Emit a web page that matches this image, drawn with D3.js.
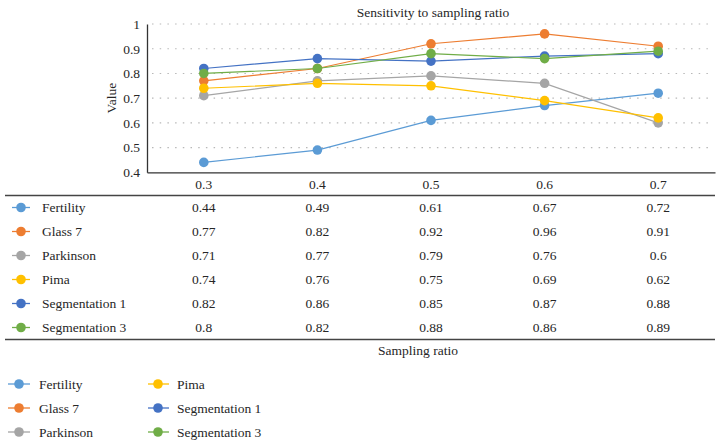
<!DOCTYPE html>
<html>
<head>
<meta charset="utf-8">
<script src="https://cdn.jsdelivr.net/npm/d3@7"></script>
<style>
  html, body { margin: 0; padding: 0; background: #fff; }
  svg { display: block; }
  text { font-family: "Liberation Serif", "DejaVu Serif", serif; fill: #262626; }
</style>
</head>
<body>
<svg id="chart" width="724" height="448"></svg>
<script>
const categories = ["0.3", "0.4", "0.5", "0.6", "0.7"];
const seriesNames = ["Fertility", "Glass 7", "Parkinson", "Pima", "Segmentation 1", "Segmentation 3"];
const seriesColors = ["#5B9BD5", "#ED7D31", "#A5A5A5", "#FFC000", "#4472C4", "#70AD47"];
const fertility = [0.44, 0.49, 0.61, 0.67, 0.72];
const glass7 = [0.77, 0.82, 0.92, 0.96, 0.91];
const parkinson = [0.71, 0.77, 0.79, 0.76, 0.6];
const pima = [0.74, 0.76, 0.75, 0.69, 0.62];
const segmentation1 = [0.82, 0.86, 0.85, 0.87, 0.88];
const segmentation3 = [0.8, 0.82, 0.88, 0.86, 0.89];
const yTicks = [0.4, 0.5, 0.6, 0.7, 0.8, 0.9, 1];
const title = "Sensitivity to sampling ratio";
const yTitle = "Value";
const xTitle = "Sampling ratio";

const seriesValues = [fertility, glass7, parkinson, pima, segmentation1, segmentation3];
const series = seriesNames.map((n, i) => ({ name: n, color: seriesColors[i], values: seriesValues[i] }));

const svg = d3.select("#chart");
const plotLeft = 147, plotRight = 715, plotTop = 24, plotBottom = 172.3;

const x = d3.scaleBand().domain(categories).range([plotLeft, plotRight]);
const xc = c => x(c) + x.bandwidth() / 2;
const y = d3.scaleLinear().domain([0.4, 1]).range([plotBottom, plotTop]);

// gridlines
svg.append("g").selectAll("line").data(yTicks.filter(t => t > 0.4)).join("line")
  .attr("x1", plotLeft + 5).attr("x2", plotRight - 3)
  .attr("y1", d => y(d)).attr("y2", d => y(d))
  .attr("stroke", "#b8b8b8").attr("stroke-width", 1.1)
  .attr("stroke-dasharray", "1.5,6.2");

// y axis
const yAxis = d3.axisLeft(y).tickValues(yTicks).tickSize(0).tickPadding(7)
  .tickFormat(d => String(+d.toFixed(1)));
const gy = svg.append("g").attr("transform", `translate(${plotLeft},0)`).call(yAxis);
gy.select(".domain").attr("stroke", "#333").attr("stroke-width", 1.3);
gy.selectAll("text").style("font-family", '"Liberation Serif", serif').style("font-size", "13.5px").attr("fill", "#262626");

// x axis
const xAxis = d3.axisBottom(x).tickSize(0).tickPadding(7);
const gx = svg.append("g").attr("transform", `translate(0,${plotBottom})`).call(xAxis);
gx.select(".domain").attr("stroke", "#333").attr("stroke-width", 1.3);
gx.selectAll("text").style("font-family", '"Liberation Serif", serif').style("font-size", "13.5px").attr("fill", "#262626");

// title
svg.append("text").attr("x", (plotLeft + plotRight) / 2 + 2).attr("y", 17)
  .attr("text-anchor", "middle").style("font-size", "13.5px").text(title);

// y title
svg.append("text").attr("transform", `translate(116,${(plotTop + plotBottom) / 2}) rotate(-90)`)
  .attr("text-anchor", "middle").style("font-size", "13.5px").text(yTitle);

// lines and points
const line = d3.line().x((d, i) => xc(categories[i])).y(d => y(d));
const gs = svg.append("g");
series.forEach(s => {
  gs.append("path").datum(s.values).attr("d", line)
    .attr("fill", "none").attr("stroke", s.color).attr("stroke-width", 1.2);
  gs.append("g").selectAll("circle").data(s.values).join("circle")
    .attr("cx", (d, i) => xc(categories[i])).attr("cy", d => y(d)).attr("r", 4.8)
    .attr("fill", s.color);
});

// data table
const tableTop = 195.5, tableBottom = 339.5;
const rowY = d3.scalePoint().domain(seriesNames).range([207.5, 327.5]);
svg.append("line").attr("x1", 5).attr("x2", plotRight).attr("y1", tableTop).attr("y2", tableTop)
  .attr("stroke", "#444").attr("stroke-width", 1.3);
svg.append("line").attr("x1", 5).attr("x2", plotRight).attr("y1", tableBottom).attr("y2", tableBottom)
  .attr("stroke", "#444").attr("stroke-width", 1.3);

const rows = svg.append("g").selectAll("g").data(series).join("g")
  .attr("transform", d => `translate(0,${rowY(d.name)})`);
rows.append("line").attr("x1", 12).attr("x2", 30).attr("y1", 0).attr("y2", 0)
  .attr("stroke", d => d.color).attr("stroke-width", 1.3);
rows.append("circle").attr("cx", 21).attr("cy", 0).attr("r", 4.8).attr("fill", d => d.color);
rows.append("text").attr("x", 42).attr("y", 0).attr("dy", "0.35em")
  .style("font-size", "13.5px").text(d => d.name);
rows.each(function(s) {
  d3.select(this).selectAll("text.v").data(s.values).join("text").attr("class", "v")
    .attr("x", (d, i) => xc(categories[i])).attr("y", 0).attr("dy", "0.35em")
    .attr("text-anchor", "middle").style("font-size", "13.5px").text(d => String(d));
});

// x title
svg.append("text").attr("x", 418).attr("y", 355).attr("text-anchor", "middle")
  .style("font-size", "13.5px").text(xTitle);

// legend
const legCols = [{ mx: 19, lx1: 8, lx2: 30, tx: 39 }, { mx: 158, lx1: 148, lx2: 169, tx: 177 }];
const legRowY = [384, 408, 432];
const leg = svg.append("g").selectAll("g").data(series).join("g")
  .attr("transform", (d, i) => `translate(0,${legRowY[i % 3]})`);
leg.append("line").attr("x1", (d, i) => legCols[Math.floor(i / 3)].lx1)
  .attr("x2", (d, i) => legCols[Math.floor(i / 3)].lx2)
  .attr("stroke", d => d.color).attr("stroke-width", 1.3);
leg.append("circle").attr("cx", (d, i) => legCols[Math.floor(i / 3)].mx).attr("r", 4.8)
  .attr("fill", d => d.color);
leg.append("text").attr("x", (d, i) => legCols[Math.floor(i / 3)].tx).attr("dy", "0.35em")
  .style("font-size", "13.5px").text(d => d.name);
</script>
</body>
</html>
